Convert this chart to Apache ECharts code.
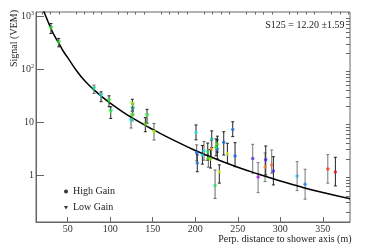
<!DOCTYPE html>
<html><head><meta charset="utf-8">
<script src="https://cdn.jsdelivr.net/npm/echarts@6/dist/echarts.min.js"></script>
<style>html,body{margin:0;padding:0;background:#fff}#c{width:369px;height:249px}</style>
</head><body><div id="c"></div>
<script>
// ---- tick values ----
const xMajorTicks = [50, 100, 150, 200, 250, 300, 350];
const xMinorTicks = [20, 30, 40, 60, 70, 80, 90, 110, 120, 130, 140, 160, 170, 180, 190, 210, 220, 230, 240, 260, 270, 280, 290, 310, 320, 330, 340, 360, 370, 380];
const yMajorTicks = [1, 10, 100, 1000];
const yMinorTicks = [0.2, 0.3, 0.4, 0.5, 0.6, 0.7, 0.8, 0.9, 2, 3, 4, 5, 6, 7, 8, 9, 20, 30, 40, 50, 60, 70, 80, 90, 200, 300, 400, 500, 600, 700, 800, 900];

// ---- Low gain stations (triangles) ----
const lowR  = [30.3, 39.4, 80.9, 89.2, 98.6, 100.6, 126, 126.5, 126, 124.5, 143.3, 141.3, 151.5];
const lowS  = [586, 313, 41.9, 31.3, 24.9, 15.6, 21.6, 17.4, 13.2, 10.4, 13.0, 8.8, 6.4];
const lowLo = [472, 264, 34.7, 24.2, 19.4, 11.7, 16.1, 13.5, 10.5, 7.7, 9.5, 6.56, 4.57];
const lowHi = [728, 380, 49.9, 37.2, 31.3, 19.4, 26.9, 22.0, 16.1, 13.0, 17.4, 12.1, 9.4];
const lowColors = ['#33dd33', '#33dd33', '#22ddaa', '#22dddd', '#33ee33', '#22ee44', '#aaee22', '#119988', '#55ee22', '#22ddcc', '#33ee33', '#66cc22', '#99ee11'];
const lowBarColors = ['#222', '#222', '#666', '#222', '#222', '#222', '#222', '#222', '#666', '#666', '#222', '#222', '#666'];

// ---- High gain stations (circles) ----
const highR  = [200.9, 244.1, 219.4, 233.5, 226, 219, 224.5, 226, 210.3, 208.4, 214.7, 215.4, 218, 228.3, 223.3, 201.7, 202.4, 237.8, 246.8, 267.6, 273.9, 282.1, 282.9, 289.9, 291.9, 319.8, 329.2, 355.9, 364.8];
const highS  = [6.37, 7.2, 4.77, 4.14, 3.09, 3.09, 3.33, 3.84, 2.87, 2.38, 2.75, 2.06, 2.0, 1.15, 0.63, 2.63, 1.68, 2.52, 2.28, 2.05, 0.91, 1.42, 1.94, 1.54, 1.19, 0.957, 0.668, 1.30, 1.14];
const highLo = [4.6, 5.3, 3.3, 2.38, 2.0, 2.1, 2.3, 2.7, 1.9, 1.6, 1.9, 1.4, 1.35, 0.70, 0.36, 1.85, 1.15, 1.66, 1.43, 1.08, 0.463, 0.75, 1.0, 1.08, 0.647, 0.506, 0.348, 0.70, 0.62];
const highHi = [8.8, 10.1, 6.8, 6.56, 4.6, 4.5, 4.8, 5.4, 4.3, 3.6, 4.0, 3.0, 3.0, 1.55, 1.24, 3.7, 2.4, 3.96, 4.07, 3.79, 1.71, 2.6, 3.52, 2.96, 2.21, 1.78, 1.28, 2.42, 2.16];
const highColors = ['#22ddee', '#1177ee', '#11bbaa', '#1166ee', '#1188ee', '#ff9911', '#22dd44', '#44ee22', '#22ddee', '#22ccdd', '#22ee55', '#44dd22', '#99ee22', '#ccee22', '#22dd66', '#1166ee', '#1177ee', '#ccee22', '#1166ee', '#5533ee', '#9922ee', '#ff8811', '#4422ee', '#ff6622', '#5522ee', '#22aaff', '#1188ff', '#ff3311', '#ee1111'];
const highBarColors = ['#222', '#222', '#222', '#222', '#222', '#666', '#222', '#222', '#666', '#222', '#222', '#666', '#222', '#222', '#666', '#666', '#222', '#222', '#222', '#777', '#777', '#777', '#222', '#777', '#222', '#777', '#777', '#777', '#222'];

// ---- fitted LDF curve ----
const curveR = [20, 22, 25, 30, 35, 40, 45, 50, 60, 70, 80, 90, 100, 115, 125, 140, 150, 175, 200, 225, 250, 275, 300, 325, 350, 382];
const curveS = [1520, 1230, 930, 600, 410, 300, 215, 165, 95, 60, 41.8, 30.3, 22.7, 15.4, 12.2, 8.84, 7.25, 4.5, 2.9, 1.98, 1.40, 1.03, 0.77, 0.59, 0.465, 0.355];

const SERIF = '"Liberation Serif", "DejaVu Serif", serif';
const FRAME = '#666';

function pts(R, S, C) { return R.map((r, i) => ({ value: [r, S[i]], itemStyle: { color: C[i] } })); }
function bars(R, Lo, Hi) { return R.map((r, i) => [r, Lo[i], Hi[i]]); }
function barSeries(R, Lo, Hi, B) {
  return {
    type: 'custom', z: 2, silent: true,
    encode: { x: 0, y: [1, 2] },
    data: bars(R, Lo, Hi),
    renderItem: (params, api) => {
      const r = api.value(0);
      const a = api.coord([r, api.value(1)]);
      const b = api.coord([r, api.value(2)]);
      const col = B[params.dataIndex];
      const w = 1.5;
      const st = { stroke: col, lineWidth: 1 };
      return { type: 'group', children: [
        { type: 'line', shape: { x1: a[0], y1: a[1], x2: b[0], y2: b[1] }, style: st },
        { type: 'line', shape: { x1: a[0] - w, y1: a[1], x2: a[0] + w, y2: a[1] }, style: st },
        { type: 'line', shape: { x1: b[0] - w, y1: b[1], x2: b[0] + w, y2: b[1] }, style: st }
      ] };
    }
  };
}

const X_MIN = 12.7, X_MAX = 382, Y_MIN = 0.129, Y_MAX = 1200;

const chart = echarts.init(document.getElementById('c'), null, { renderer: 'canvas' });
chart.setOption({
  animation: false,
  backgroundColor: '#fff',
  grid: { left: 36, right: 19, top: 12, bottom: 27, show: true, borderColor: FRAME, borderWidth: 1, backgroundColor: 'transparent' },
  xAxis: [
    { type: 'value', min: X_MIN, max: X_MAX,
      axisLine: { show: true, lineStyle: { color: FRAME } },
      splitLine: { show: false },
      axisTick: { show: true, inside: true, length: 5, customValues: xMajorTicks, lineStyle: { color: FRAME } },
      axisLabel: { show: true, customValues: xMajorTicks, margin: 2, fontFamily: SERIF, fontSize: 10, color: '#333' } },
    { type: 'value', min: X_MIN, max: X_MAX, gridIndex: 0,
      axisLine: { show: false }, splitLine: { show: false }, axisLabel: { show: false },
      axisTick: { show: true, inside: true, length: 2.5, customValues: xMinorTicks, lineStyle: { color: FRAME } } }
  ],
  yAxis: [
    { type: 'log', logBase: 10, min: Y_MIN, max: Y_MAX,
      axisLine: { show: true, lineStyle: { color: FRAME } },
      splitLine: { show: false },
      axisTick: { show: true, inside: true, length: 8, customValues: yMajorTicks, lineStyle: { color: FRAME } },
      axisLabel: { show: true, customValues: yMajorTicks, margin: 2, fontFamily: SERIF, fontSize: 10, color: '#333',
        formatter: v => { const e = Math.round(Math.log10(v)); return e >= 2 ? '10{s|' + e + '}' : String(Math.round(v)); },
        rich: { s: { fontSize: 6, fontFamily: SERIF, color: '#333', verticalAlign: 'top', padding: [0, 0, 5, 0] } } } },
    { type: 'log', logBase: 10, min: Y_MIN, max: Y_MAX, gridIndex: 0,
      axisLine: { show: false }, splitLine: { show: false }, axisLabel: { show: false },
      axisTick: { show: true, inside: true, length: 4, customValues: yMinorTicks, lineStyle: { color: FRAME } } }
  ],
  legend: {
    orient: 'vertical', left: 59, top: 180.5, itemWidth: 4, itemHeight: 4, itemGap: 4.3, selectedMode: false,
    textStyle: { fontFamily: SERIF, fontSize: 10, color: '#222', lineHeight: 12 },
    data: [ { name: 'High Gain', icon: 'circle' }, { name: 'Low Gain', icon: 'path://M0,0L10,0L5,9Z' } ]
  },
  graphic: [
    { type: 'text', x: 14, y: 38.5, rotation: Math.PI / 2,
      style: { text: 'Signal (VEM)', fontFamily: SERIF, fontSize: 10, fill: '#222', align: 'center', verticalAlign: 'middle' } },
    { type: 'text', x: 351.5, y: 239.5,
      style: { text: 'Perp. distance to shower axis (m)', fontFamily: SERIF, fontSize: 10, fill: '#222', align: 'right', verticalAlign: 'middle' } },
    { type: 'text', x: 344.5, y: 25,
      style: { text: 'S125 = 12.20 \u00b11.59', fontFamily: SERIF, fontSize: 10, fill: '#222', align: 'right', verticalAlign: 'middle' } }
  ],
  series: [
    barSeries(lowR, lowLo, lowHi, lowBarColors),
    barSeries(highR, highLo, highHi, highBarColors),
    { type: 'line', name: 'fit', z: 3, smooth: true, symbol: 'none', silent: true,
      data: curveR.map((r, i) => [r, curveS[i]]),
      lineStyle: { color: '#000', width: 1.5 }, clip: true },
    { type: 'scatter', name: 'High Gain', z: 4, symbol: 'circle', symbolSize: 3.5,
      itemStyle: { color: '#000' }, data: pts(highR, highS, highColors) },
    { type: 'scatter', name: 'Low Gain', z: 4, symbol: 'triangle', symbolRotate: 180, symbolSize: 5,
      itemStyle: { color: '#000' }, data: pts(lowR, lowS, lowColors) }
  ]
});
</script>
</body></html>
